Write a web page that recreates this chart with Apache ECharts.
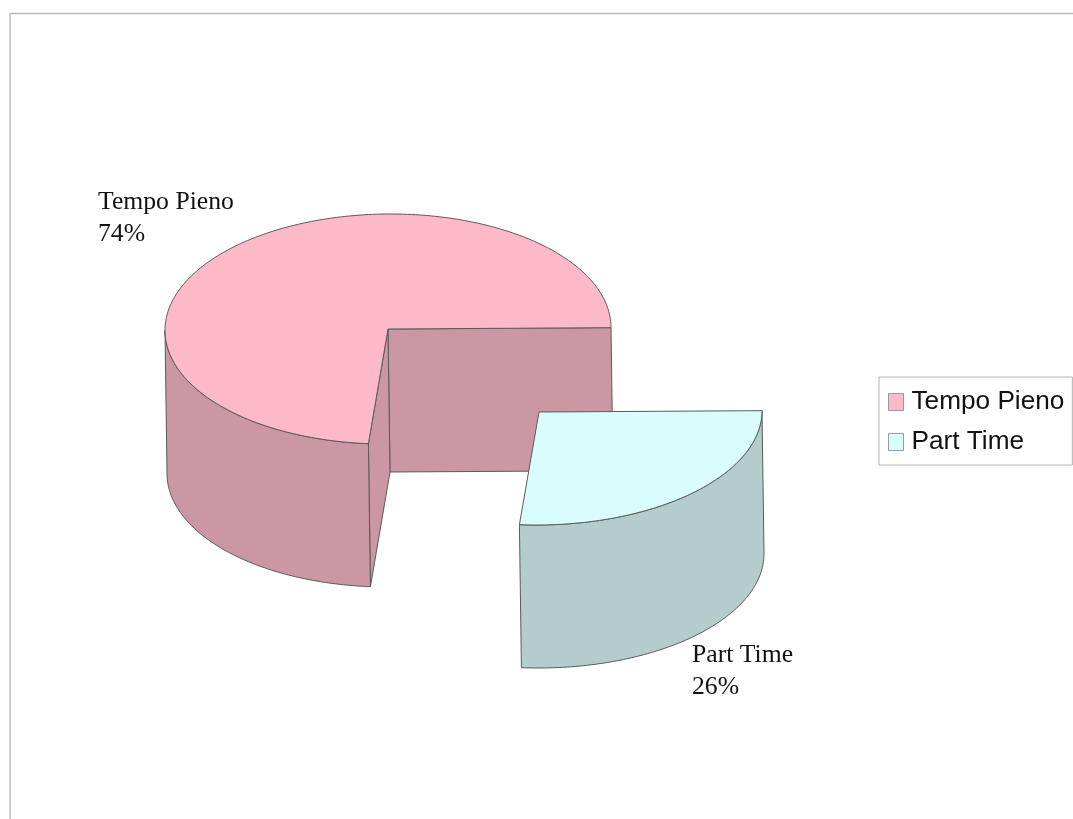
<!DOCTYPE html>
<html>
<head>
<meta charset="utf-8">
<title>Tempo Pieno / Part Time</title>
<script src="https://cdn.jsdelivr.net/npm/echarts@6/dist/echarts.min.js"></script>
<style>
  html, body { margin: 0; padding: 0; background: #fff; }
  #chart { width: 1073px; height: 819px; }
</style>
</head>
<body>
<div id="chart"></div>
<script>
// data
var categories = ["Tempo Pieno", "Part Time"];
var shareValues = [73.6, 26.4];

// look of the slices, same index as categories
var topColors = ["#fcb9c7", "#d9fcfc"];
var wallColors = ["#cb97a3", "#b5cccd"];
var sliceCenters = [[388, 329], [539, 412]];
var sliceRadiiY = [115, 113];
var labelBoxes = [[98, 186], [692, 639]];

var RX = 223, DEPTH = 143, DRIFT = 2, TILT = 0.006;
var EDGE = { stroke: "#5a5a5a", lineWidth: 1, lineJoin: "round" };

var total = shareValues.reduce(function (a, b) { return a + b; }, 0);

function rimPoint(index, deg, down) {
  var c = sliceCenters[index];
  var a = deg * Math.PI / 180;
  var dx = RX * Math.cos(a);
  return [
    c[0] + dx + (down ? DRIFT : 0),
    c[1] - sliceRadiiY[index] * Math.sin(a) - TILT * dx + (down ? DEPTH : 0)
  ];
}

function arcPoints(index, from, to, down) {
  var pts = [];
  var steps = Math.max(2, Math.ceil(Math.abs(to - from)));
  for (var i = 0; i <= steps; i++) {
    pts.push(rimPoint(index, from + (to - from) * i / steps, down));
  }
  return pts;
}

function poly(points, fill) {
  return {
    type: "polygon",
    shape: { points: points },
    style: Object.assign({ fill: fill }, EDGE)
  };
}

// flat wall running from the slice centre out to the rim
function cutWall(index, deg) {
  var c = sliceCenters[index];
  return poly([
    c,
    rimPoint(index, deg, false),
    rimPoint(index, deg, true),
    [c[0] + DRIFT, c[1] + DEPTH]
  ], wallColors[index]);
}

function renderSlice(index, start, end) {
  var c = sliceCenters[index];
  var kids = [];
  // the inner cuts only show when they face the viewer
  if (start < 90) {
    kids.push(cutWall(index, start));
    if (end > 180 && end < 360) {
      kids.push(cutWall(index, end));
    }
  }
  // outer wall, lower half of the ellipse only
  var wallFrom = Math.max(start, 180);
  var wallTo = Math.min(end, 360);
  if (wallTo > wallFrom) {
    var upper = arcPoints(index, wallFrom, wallTo, false);
    var lower = arcPoints(index, wallTo, wallFrom, true);
    kids.push(poly(upper.concat(lower), wallColors[index]));
  }
  // top face
  kids.push(poly([c].concat(arcPoints(index, start, end, false)), topColors[index]));
  // label
  var box = labelBoxes[index];
  kids.push({
    type: "text",
    x: box[0],
    y: box[1],
    style: {
      text: categories[index] + "\n" + Math.round(shareValues[index] / total * 100) + "%",
      font: "25.7px 'Liberation Serif'",
      lineHeight: 32,
      fill: "#111"
    },
    z2: 10
  });
  return { type: "group", children: kids };
}

var angleCursor = 0;
var series = categories.map(function (name, i) {
  var start = angleCursor;
  var end = start + shareValues[i] / total * 360;
  angleCursor = end;
  return {
    name: name,
    type: "custom",
    coordinateSystem: "none",
    silent: true,
    itemStyle: { color: topColors[i] },
    data: [shareValues[i]],
    renderItem: function () {
      return renderSlice(i, start, end);
    }
  };
});

var chart = echarts.init(document.getElementById("chart"), null, { renderer: "canvas" });
chart.setOption({
  backgroundColor: "#fff",
  animation: false,
  legend: {
    orient: "vertical",
    left: 879,
    top: 377,
    padding: [12, 8, 10, 9],
    itemWidth: 15,
    itemHeight: 17,
    itemGap: 14,
    selectedMode: false,
    borderColor: "#b3b3b3",
    borderWidth: 1,
    icon: "rect",
    itemStyle: { borderColor: "#999", borderWidth: 1 },
    textStyle: {
      fontFamily: "Liberation Sans",
      fontSize: 26.2,
      color: "#111",
      padding: [0, 0, 0, 3]
    },
    data: categories
  },
  graphic: [
    { type: "line", shape: { x1: 10, y1: 13.5, x2: 1073, y2: 13.5 }, style: { stroke: "#b8b8b8", lineWidth: 1.3 } },
    { type: "line", shape: { x1: 10, y1: 13, x2: 10, y2: 819 }, style: { stroke: "#b8b8b8", lineWidth: 1.3 } }
  ],
  series: series
});
</script>
</body>
</html>
